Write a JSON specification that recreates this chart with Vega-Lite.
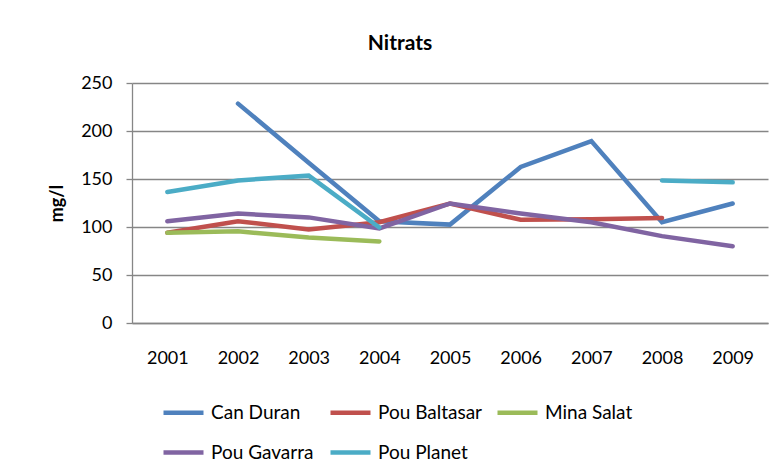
{
  "$schema": "https://vega.github.io/schema/vega-lite/v6.json",
  "autosize": "none",
  "width": 636,
  "height": 240,
  "padding": {"left": 132, "top": 83, "right": 12, "bottom": 151},
  "background": "white",
  "title": {
    "text": "Nitrats",
    "font": "Lato",
    "fontSize": 21,
    "fontWeight": "bold",
    "color": "black",
    "anchor": "middle",
    "frame": "group",
    "dx": -50,
    "offset": 20
  },
  "config": {
    "view": {"stroke": null},
    "font": "Lato"
  },
  "data": {
    "values": [
      {"year": "2001", "site": "Can Duran", "value": null},
      {"year": "2002", "site": "Can Duran", "value": 228.5},
      {"year": "2003", "site": "Can Duran", "value": 167},
      {"year": "2004", "site": "Can Duran", "value": 106},
      {"year": "2005", "site": "Can Duran", "value": 102.5},
      {"year": "2006", "site": "Can Duran", "value": 162.5},
      {"year": "2007", "site": "Can Duran", "value": 189.5},
      {"year": "2008", "site": "Can Duran", "value": 105},
      {"year": "2009", "site": "Can Duran", "value": 124.5},
      {"year": "2001", "site": "Pou Baltasar", "value": 94},
      {"year": "2002", "site": "Pou Baltasar", "value": 106},
      {"year": "2003", "site": "Pou Baltasar", "value": 97.5},
      {"year": "2004", "site": "Pou Baltasar", "value": 105},
      {"year": "2005", "site": "Pou Baltasar", "value": 124.5},
      {"year": "2006", "site": "Pou Baltasar", "value": 107.5},
      {"year": "2007", "site": "Pou Baltasar", "value": 108},
      {"year": "2008", "site": "Pou Baltasar", "value": 109.5},
      {"year": "2009", "site": "Pou Baltasar", "value": null},
      {"year": "2001", "site": "Mina Salat", "value": 94},
      {"year": "2002", "site": "Mina Salat", "value": 95.5},
      {"year": "2003", "site": "Mina Salat", "value": 89},
      {"year": "2004", "site": "Mina Salat", "value": 85},
      {"year": "2005", "site": "Mina Salat", "value": null},
      {"year": "2006", "site": "Mina Salat", "value": null},
      {"year": "2007", "site": "Mina Salat", "value": null},
      {"year": "2008", "site": "Mina Salat", "value": null},
      {"year": "2009", "site": "Mina Salat", "value": null},
      {"year": "2001", "site": "Pou Gavarra", "value": 106},
      {"year": "2002", "site": "Pou Gavarra", "value": 114},
      {"year": "2003", "site": "Pou Gavarra", "value": 110},
      {"year": "2004", "site": "Pou Gavarra", "value": 98.5},
      {"year": "2005", "site": "Pou Gavarra", "value": 124.5},
      {"year": "2006", "site": "Pou Gavarra", "value": 114},
      {"year": "2007", "site": "Pou Gavarra", "value": 105},
      {"year": "2008", "site": "Pou Gavarra", "value": 90.5},
      {"year": "2009", "site": "Pou Gavarra", "value": 80},
      {"year": "2001", "site": "Pou Planet", "value": 136.5},
      {"year": "2002", "site": "Pou Planet", "value": 148.5},
      {"year": "2003", "site": "Pou Planet", "value": 153.5},
      {"year": "2004", "site": "Pou Planet", "value": 99.5},
      {"year": "2005", "site": "Pou Planet", "value": null},
      {"year": "2006", "site": "Pou Planet", "value": null},
      {"year": "2007", "site": "Pou Planet", "value": null},
      {"year": "2008", "site": "Pou Planet", "value": 148.5},
      {"year": "2009", "site": "Pou Planet", "value": 146.5}
    ]
  },
  "mark": {"type": "line", "strokeWidth": 4.5, "strokeCap": "round", "strokeJoin": "miter", "invalid": "break-paths-filter-domains"},
  "encoding": {
    "x": {
      "field": "year",
      "type": "ordinal",
      "scale": {"type": "point", "padding": 0.5},
      "axis": {
        "title": null,
        "labelAngle": 0,
        "labelFont": "Lato",
        "labelFontSize": 18,
        "labelColor": "black",
        "ticks": false,
        "labelPadding": 26,
        "domainColor": "#868686",
        "domainWidth": 1.5,
        "grid": false
      }
    },
    "y": {
      "field": "value",
      "type": "quantitative",
      "scale": {"domain": [0, 250], "nice": false, "zero": true},
      "axis": {
        "title": "mg/l",
        "titleFont": "Lato",
        "titleFontSize": 18,
        "titleFontWeight": "bold",
        "titleColor": "black",
        "titleX": -66,
        "titleY": 120,
        "titleAlign": "center",
        "titleAngle": 270,
        "values": [0, 50, 100, 150, 200, 250],
        "labelFont": "Lato",
        "labelFontSize": 18,
        "labelColor": "black",
        "labelPadding": 14,
        "tickSize": 6,
        "tickColor": "#868686",
        "tickWidth": 1.3,
        "domainColor": "#868686",
        "domainWidth": 1.3,
        "gridColor": "#868686",
        "gridWidth": 1.3,
        "gridOpacity": 1
      }
    },
    "color": {
      "field": "site",
      "type": "nominal",
      "scale": {
        "domain": ["Can Duran", "Pou Baltasar", "Mina Salat", "Pou Gavarra", "Pou Planet"],
        "range": ["#4F81BD", "#C0504D", "#9BBB59", "#8064A2", "#4BACC6"]
      },
      "legend": {
        "title": null,
        "orient": "none",
        "legendX": 29,
        "legendY": 307,
        "direction": "horizontal",
        "columns": 3,
        "gridAlign": "all",
        "columnPadding": 5,
        "rowPadding": 7,
        "symbolType": "stroke",
        "symbolSize": 1600,
        "symbolStrokeWidth": 4.5,
        "labelFont": "Lato",
        "labelFontSize": 19,
        "labelColor": "black",
        "labelOffset": 5,
        "labelLimit": 300
      }
    }
  }
}
